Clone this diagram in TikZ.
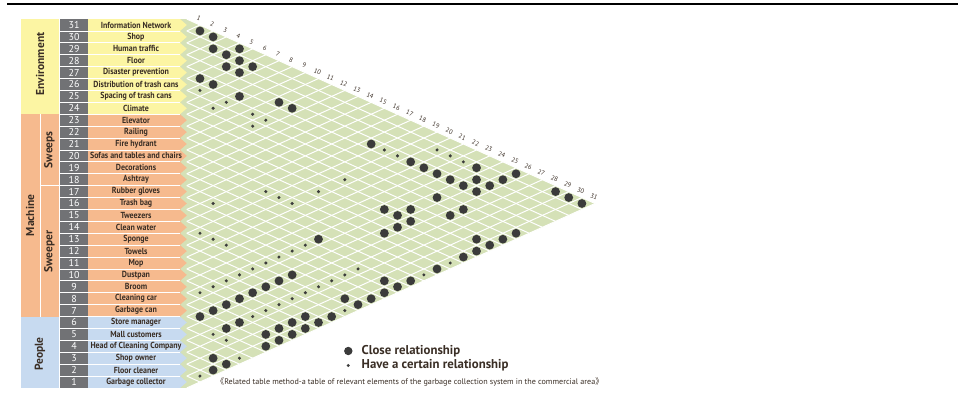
\documentclass[tikz,border=0pt]{standalone}
\usepackage{fontspec}
\setmainfont{PT Sans}
\newfontfamily\cjkfont{Noto Sans CJK SC}
\newfontfamily\narrowfont[FakeStretch=0.9]{PT Sans}
\definecolor{envyellow}{HTML}{FCF5A3}
\definecolor{machorange}{HTML}{F6BA8E}
\definecolor{peopleblue}{HTML}{C7DAF0}
\definecolor{numgray}{HTML}{717275}
\definecolor{gridgreen}{HTML}{D5E1B7}
\definecolor{dotgray}{HTML}{3B3B3B}
\definecolor{labeltext}{HTML}{3A2E25}

\begin{document}
\begin{tikzpicture}[x=1pt,y=-1pt,
  rowlabel/.style={font=\narrowfont\bfseries\fontsize{8.8}{9}\selectfont, text=labeltext, inner sep=0pt},
  rownum/.style={font=\fontsize{10}{10}\selectfont, text=white, inner sep=0pt},
  grouplabel/.style={font=\bfseries\fontsize{11.5}{12}\selectfont, text=labeltext, rotate=90, inner sep=0pt},
  collabel/.style={font=\fontsize{6.5}{7}\selectfont, text=labeltext, rotate=-24, inner sep=0pt},
  gridline/.style={white, line width=1},
  legendtext/.style={font=\bfseries\fontsize{12.8}{13}\selectfont, text=labeltext, anchor=west, inner sep=0pt},
  captiontext/.style={font=\fontsize{8.1}{8}\selectfont, text=labeltext, anchor=west, inner sep=0pt}]

\useasboundingbox (0,0) rectangle (970,414);

\draw[black,line width=1.3] (7,4)--(958,4);

\fill[gridgreen] (180,19.05)--(186.8,19.05)--(595.2,203.5)--(186.8,387.95)--(180,387.95)--cycle;
\foreach \m in {0,...,31}{
  \draw[gridline] (186.8,{387.95-\m*11.9})--++({\m*13.17},{\m*5.95});
  \draw[gridline] (186.8,{387.95-\m*11.9})--++({(31-\m)*13.17},{-(31-\m)*5.95});
}

\fill[envyellow] (20.5,19.05) rectangle (58.5,114.25);
\fill[machorange] (20.5,114.25) rectangle (39.5,316.55);
\fill[machorange] (40.5,114.25) rectangle (58.5,185.15);
\fill[machorange] (40.5,186.15) rectangle (58.5,316.55);
\fill[peopleblue] (20.5,316.55) rectangle (58.5,387.95);

\node[grouplabel] (env) at (40,64) {Environment};
\node[grouplabel] (mach) at (30,215.4) {Machine};
\node[grouplabel] (sweeps) at (49.5,149.7) {Sweeps};
\node[grouplabel] (sweeper) at (49.5,251.4) {Sweeper};
\node[grouplabel] (people) at (40,354) {People};

\foreach \k/\lab/\col in {31/Information Network/envyellow, 30/Shop/envyellow, 29/Human traffic/envyellow,
  28/Floor/envyellow, 27/Disaster prevention/envyellow, 26/Distribution of trash cans/envyellow,
  25/Spacing of trash cans/envyellow, 24/Climate/envyellow,
  23/Elevator/machorange, 22/Railing/machorange, 21/Fire hydrant/machorange,
  20/Sofas and tables and chairs/machorange, 19/Decorations/machorange, 18/Ashtray/machorange,
  17/Rubber gloves/machorange, 16/Trash bag/machorange, 15/Tweezers/machorange,
  14/Clean water/machorange, 13/Sponge/machorange, 12/Towels/machorange, 11/Mop/machorange,
  10/Dustpan/machorange, 9/Broom/machorange, 8/Cleaning car/machorange, 7/Garbage can/machorange,
  6/Store manager/peopleblue, 5/Mall customers/peopleblue, 4/Head of Cleaning Company/peopleblue,
  3/Shop owner/peopleblue, 2/Floor cleaner/peopleblue, 1/Garbage collector/peopleblue}{
  \pgfmathsetmacro\ry{382-(\k-1)*11.9}
  \fill[\col] (88,{\ry-5.95})--(180,{\ry-5.95})--(186.8,\ry)--(180,{\ry+5.95})--(88,{\ry+5.95})--cycle;
  \fill[numgray] (60,{\ry-5.95}) rectangle (88,{\ry+5.95});
  \node[rownum] (num\k) at (74,\ry) {\k};
  \node[rowlabel] (lab\k) at (136,\ry) {\lab};
}
\foreach \m in {1,...,30}
  \draw[white,line width=0.7] (60,{387.95-\m*11.9})--(180,{387.95-\m*11.9});

\foreach \k in {1,...,31}
  \node[collabel] (col\k) at ({185.8+13.17*\k},{25+0.4517*(13.17*\k-14.2)-6.5}) {\k};

\foreach \i/\j in {30/31, 29/31, 28/30, 27/31, 27/30, 26/30, 26/29, 25/30, 25/29, 26/27, 25/27, 23/27,
  21/28, 20/28, 14/28, 11/28, 10/28, 9/28, 8/28, 7/28, 6/28, 8/30, 7/29, 6/29, 6/30, 6/31,
  3/31, 2/31, 1/31, 7/26, 5/26, 5/25, 8/23, 7/23, 7/24, 6/23, 6/22, 6/21, 8/18,
  6/7, 6/8, 6/9, 6/10, 6/11, 6/12, 6/13, 6/14, 4/7, 4/8, 2/4, 2/8, 2/9, 2/10, 2/11, 2/14,
  2/17, 2/24, 1/3, 1/4, 1/7, 1/8, 1/9, 1/10, 1/11, 1/12, 1/14, 1/15, 1/16, 1/17, 1/18,
  1/20, 1/22, 1/23, 1/24, 1/25, 1/26}
  \fill[dotgray] ({186.8+13.17*(\j-\i)},{382-((\i+\j)/2-1)*11.9}) circle (4.4);

\foreach \i/\j in {25/26, 23/26, 23/25, 21/26, 20/26, 20/25, 13/28, 12/28, 11/30, 10/30, 9/30,
  12/24, 12/22, 14/20, 13/20, 12/20, 15/17, 13/14, 12/14, 11/14, 8/9, 8/10, 8/11, 8/12,
  8/13, 8/14, 8/15, 8/16, 8/17, 4/6, 4/9, 4/10, 4/11, 4/12, 4/13, 4/14, 4/15, 4/16, 4/17,
  3/6, 1/2, 1/5, 1/13, 1/19, 1/21}
  \fill[dotgray] ({186.8+13.17*(\j-\i)},{382-((\i+\j)/2-1)*11.9}) circle (1.7);

\fill[dotgray] (348.3,351) circle (4.2);
\fill[dotgray] (348.3,365.5) circle (1.6);
\node[legendtext] (close) at (361.5,351) {Close relationship};
\node[legendtext] (certain) at (361.5,365.5) {Have a certain relationship};
\node[captiontext] (caption) at (216,381.5) {{\cjkfont 《}Related table method-a table of relevant elements of the garbage collection system in the commercial area{\cjkfont 》}};

\end{tikzpicture}
\end{document}
